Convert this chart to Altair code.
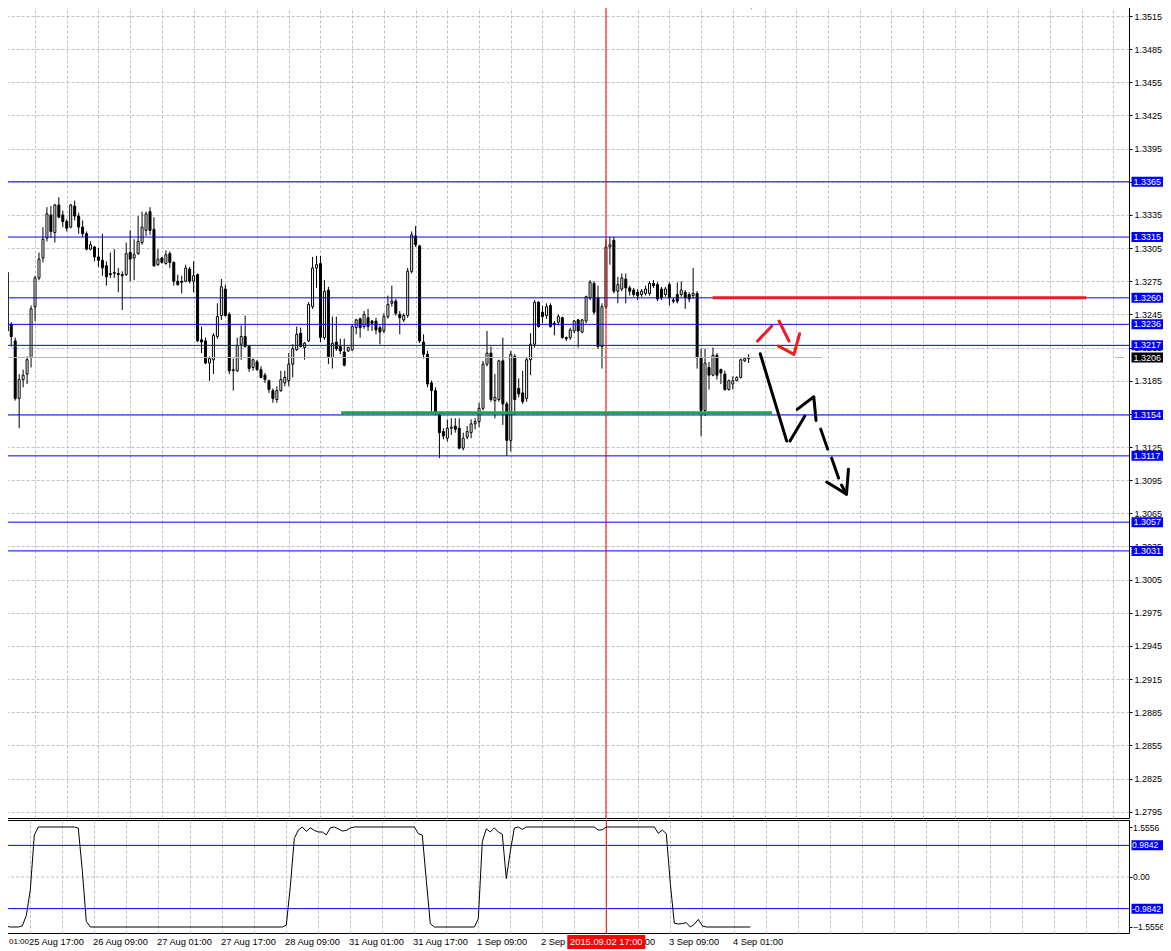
import altair as alt
import pandas as pd

# ---------------- candle data (H1 bars, index 0..187) ----------------
opens = [1.3283,1.3236,1.3221,1.3169,1.3186,1.3191,1.3206,1.3252,1.3278,1.3296,
         1.3314,1.3335,1.3319,1.3344,1.3335,1.3329,1.3324,1.3343,1.3334,1.3324,
         1.3318,1.3304,1.3306,1.3297,1.3294,1.3289,1.3282,1.3282,1.3282,1.3281,
         1.3281,1.3301,1.3296,1.3300,1.3310,1.3321,1.3338,1.3322,1.3290,1.3296,
         1.3291,1.3300,1.3292,1.3275,1.3275,1.3275,1.3286,1.3275,1.3281,1.3222,
         1.3221,1.3201,1.3204,1.3225,1.3244,1.3268,1.3245,1.3194,1.3194,1.3218,
         1.3225,1.3216,1.3197,1.3202,1.3195,1.3190,1.3185,1.3176,1.3168,1.3176,
         1.3183,1.3185,1.3200,1.3213,1.3228,1.3215,1.3221,1.3252,1.3287,1.3291,
         1.3224,1.3267,1.3206,1.3220,1.3216,1.3211,1.3212,1.3213,1.3233,1.3241,
         1.3234,1.3242,1.3239,1.3239,1.3233,1.3230,1.3243,1.3255,1.3257,1.3245,
         1.3240,1.3244,1.3284,1.3316,1.3307,1.3220,1.3209,1.3183,1.3176,1.3154,
         1.3139,1.3133,1.3142,1.3144,1.3142,1.3124,1.3134,1.3138,1.3146,1.3148,
         1.3160,1.3200,1.3210,1.3167,1.3168,1.3203,1.3164,1.3131,1.3207,1.3178,
         1.3174,1.3169,1.3204,1.3218,1.3256,1.3247,1.3244,1.3253,1.3237,1.3238,
         1.3242,1.3224,1.3224,1.3230,1.3240,1.3229,1.3239,1.3260,1.3273,1.3260,
         1.3216,1.3252,1.3306,1.3312,1.3266,1.3268,1.3277,1.3269,1.3267,1.3265,
         1.3263,1.3264,1.3264,1.3273,1.3272,1.3268,1.3263,1.3272,1.3258,1.3263,
         1.3263,1.3265,1.3263,1.3262,1.3264,1.3206,1.3158,1.3197,1.3190,1.3208,
         1.3195,1.3191,1.3177,1.3182,1.3185,1.3188,1.3203,1.3205]
highs = [1.3285,1.3238,1.3224,1.3191,1.3195,1.3207,1.3253,1.3280,1.3301,1.3324,
         1.3342,1.3343,1.3345,1.3351,1.3339,1.3331,1.3345,1.3348,1.3337,1.3330,
         1.3320,1.3311,1.3307,1.3305,1.3318,1.3293,1.3301,1.3304,1.3287,1.3284,
         1.3310,1.3321,1.3313,1.3334,1.3338,1.3338,1.3342,1.3333,1.3304,1.3297,
         1.3303,1.3302,1.3293,1.3281,1.3280,1.3290,1.3288,1.3293,1.3282,1.3234,
         1.3224,1.3207,1.3228,1.3255,1.3277,1.3272,1.3247,1.3205,1.3224,1.3235,
         1.3244,1.3217,1.3205,1.3204,1.3198,1.3192,1.3186,1.3178,1.3180,1.3194,
         1.3194,1.3210,1.3218,1.3234,1.3233,1.3220,1.3256,1.3297,1.3298,1.3298,
         1.3276,1.3270,1.3243,1.3243,1.3223,1.3223,1.3216,1.3236,1.3241,1.3242,
         1.3248,1.3250,1.3240,1.3242,1.3235,1.3246,1.3262,1.3271,1.3259,1.3248,
         1.3246,1.3287,1.3320,1.3325,1.3308,1.3227,1.3212,1.3185,1.3179,1.3157,
         1.3142,1.3150,1.3151,1.3151,1.3151,1.3138,1.3144,1.3150,1.3151,1.3165,
         1.3203,1.3230,1.3216,1.3191,1.3204,1.3224,1.3166,1.3212,1.3209,1.3187,
         1.3194,1.3206,1.3228,1.3258,1.3257,1.3253,1.3255,1.3255,1.3239,1.3245,
         1.3243,1.3225,1.3233,1.3240,1.3241,1.3241,1.3262,1.3276,1.3275,1.3271,
         1.3255,1.3313,1.3315,1.3315,1.3279,1.3282,1.3282,1.3271,1.3269,1.3268,
         1.3268,1.3271,1.3275,1.3276,1.3274,1.3270,1.3270,1.3274,1.3260,1.3274,
         1.3275,1.3267,1.3265,1.3287,1.3266,1.3214,1.3214,1.3202,1.3215,1.3210,
         1.3196,1.3194,1.3186,1.3189,1.3189,1.3205,1.3206,1.3209]
lows =  [1.3228,1.3216,1.3167,1.3142,1.3179,1.3182,1.3197,1.3239,1.3276,1.3292,
         1.3311,1.3314,1.3310,1.3332,1.3324,1.3320,1.3323,1.3330,1.3318,1.3315,
         1.3303,1.3303,1.3293,1.3288,1.3280,1.3271,1.3278,1.3278,1.3265,1.3249,
         1.3280,1.3275,1.3276,1.3299,1.3308,1.3316,1.3317,1.3288,1.3289,1.3291,
         1.3290,1.3287,1.3271,1.3271,1.3264,1.3274,1.3273,1.3265,1.3220,1.3210,
         1.3200,1.3185,1.3191,1.3223,1.3240,1.3243,1.3191,1.3176,1.3193,1.3204,
         1.3215,1.3193,1.3194,1.3194,1.3187,1.3183,1.3174,1.3165,1.3165,1.3175,
         1.3180,1.3180,1.3188,1.3212,1.3215,1.3204,1.3220,1.3250,1.3269,1.3220,
         1.3222,1.3200,1.3196,1.3212,1.3209,1.3198,1.3211,1.3212,1.3227,1.3224,
         1.3232,1.3230,1.3230,1.3227,1.3218,1.3228,1.3241,1.3252,1.3244,1.3227,
         1.3238,1.3242,1.3282,1.3306,1.3219,1.3205,1.3179,1.3157,1.3154,1.3115,
         1.3132,1.3130,1.3136,1.3138,1.3123,1.3122,1.3132,1.3133,1.3141,1.3143,
         1.3158,1.3198,1.3166,1.3151,1.3166,1.3145,1.3117,1.3121,1.3154,1.3170,
         1.3164,1.3166,1.3190,1.3215,1.3233,1.3237,1.3241,1.3233,1.3226,1.3235,
         1.3223,1.3221,1.3222,1.3228,1.3215,1.3228,1.3237,1.3258,1.3245,1.3214,
         1.3196,1.3250,1.3290,1.3264,1.3255,1.3266,1.3255,1.3262,1.3261,1.3258,
         1.3261,1.3262,1.3262,1.3269,1.3257,1.3258,1.3261,1.3253,1.3255,1.3255,
         1.3261,1.3250,1.3256,1.3259,1.3196,1.3135,1.3153,1.3177,1.3189,1.3186,
         1.3182,1.3176,1.3176,1.3177,1.3185,1.3187,1.3202,1.3201]
closes = [1.3230,1.3225,1.3169,1.3186,1.3190,1.3204,1.3250,1.3278,1.3295,1.3313,
          1.3336,1.3320,1.3344,1.3333,1.3329,1.3323,1.3344,1.3334,1.3324,1.3318,
          1.3304,1.3308,1.3297,1.3294,1.3287,1.3279,1.3281,1.3283,1.3281,1.3280,
          1.3300,1.3295,1.3299,1.3311,1.3324,1.3336,1.3321,1.3289,1.3295,1.3292,
          1.3299,1.3292,1.3275,1.3272,1.3274,1.3287,1.3275,1.3280,1.3221,1.3220,
          1.3201,1.3205,1.3226,1.3243,1.3270,1.3244,1.3194,1.3195,1.3217,1.3225,
          1.3216,1.3196,1.3204,1.3195,1.3188,1.3186,1.3177,1.3169,1.3176,1.3186,
          1.3188,1.3200,1.3214,1.3227,1.3216,1.3219,1.3254,1.3287,1.3290,1.3224,
          1.3266,1.3207,1.3219,1.3214,1.3212,1.3199,1.3215,1.3234,1.3240,1.3233,
          1.3245,1.3234,1.3237,1.3231,1.3229,1.3243,1.3254,1.3257,1.3246,1.3242,
          1.3244,1.3284,1.3317,1.3308,1.3221,1.3209,1.3182,1.3176,1.3156,1.3138,
          1.3135,1.3142,1.3143,1.3141,1.3124,1.3133,1.3139,1.3146,1.3148,1.3160,
          1.3200,1.3210,1.3168,1.3170,1.3203,1.3164,1.3131,1.3209,1.3168,1.3173,
          1.3166,1.3204,1.3218,1.3256,1.3234,1.3243,1.3252,1.3234,1.3236,1.3243,
          1.3224,1.3223,1.3231,1.3239,1.3230,1.3240,1.3261,1.3274,1.3247,1.3216,
          1.3252,1.3306,1.3308,1.3266,1.3272,1.3278,1.3269,1.3266,1.3263,1.3262,
          1.3266,1.3268,1.3273,1.3271,1.3259,1.3260,1.3268,1.3260,1.3257,1.3257,
          1.3267,1.3260,1.3259,1.3264,1.3206,1.3158,1.3201,1.3190,1.3208,1.3190,
          1.3192,1.3177,1.3185,1.3185,1.3188,1.3204,1.3205,1.3206]

# ---------------- levels & labels ----------------
level_prices = [1.3365, 1.3315, 1.3260, 1.3236, 1.3217, 1.3154, 1.3117, 1.3057, 1.3031]
level_labels = ["1.3365", "1.3315", "1.3260", "1.3236", "1.3217", "1.3154", "1.3117", "1.3057", "1.3031"]
bid_price = 1.3206
bid_label = "1.3206"
price_ticks = [1.2795, 1.2825, 1.2855, 1.2885, 1.2915, 1.2945, 1.2975, 1.3005, 1.3035,
               1.3065, 1.3095, 1.3125, 1.3155, 1.3185, 1.3215, 1.3245, 1.3275, 1.3305,
               1.3335, 1.3365, 1.3395, 1.3425, 1.3455, 1.3485, 1.3515]

# annotations (bar index, price)
red_line_bars = [177.9, 272.2]
red_line_price = 1.3260
green_line_bars = [84.2, 192.9]
green_line_price = 1.3156
marked_bar = 151
arrow_seg = ["r1", "r1", "r2", "r2", "r3", "r3", "r3",
             "k1", "k1", "k2", "k2", "k3", "k3", "k3", "k4", "k4", "k5", "k5",
             "k6", "k6", "k6", "k7", "k7"]
arrow_bar = [189.25, 192.85, 194.675, 197.175, 194.5, 198.425, 199.85,
             189.925, 196.6, 197.425, 201.175, 199.25, 203.425, 204.0, 205.175, 206.925,
             207.925, 209.675, 206.675, 211.675, 212.175, 210.425, 211.675]
arrow_price = [1.32209, 1.32345, 1.32390, 1.32209, 1.32164, 1.32088, 1.32275,
               1.32094, 1.31304, 1.31304, 1.31530, 1.31591, 1.31705, 1.31491, 1.31412, 1.31231,
               1.31150, 1.30969, 1.30933, 1.30824, 1.31050, 1.30906, 1.30824]

# ---------------- indicator ----------------
ind_bars = [0, 1, 2, 4, 5, 6, 7, 8, 9, 18, 19, 20, 21, 22, 70, 71, 72, 73, 74, 75,
            76, 77, 78, 79, 80, 81, 82, 83, 84, 85, 86, 87, 88, 103, 104, 105, 106, 107, 108,
            118, 119, 120, 121, 122, 123, 124, 125, 126, 127, 128, 129, 130, 131,
            148, 149, 150, 151, 163, 164, 165, 166, 167, 168, 169, 170, 171, 172, 173,
            174, 175, 176, 187]
ind_vals = [-0.5, -1.53, -1.556, -1.556, -1.52, -1.2, -0.4, 1.3, 1.556, 1.556, 1.52, 0.2, -1.38, -1.556,
            -1.556, -1.5, -0.3, 1.2, 1.46, 1.556,
            1.42, 1.53, 1.45, 1.40, 1.40, 1.31, 1.53, 1.556, 1.50, 1.43, 1.45, 1.52, 1.556,
            1.556, 1.35, 1.30, -0.1, -1.45, -1.556,
            -1.556, -1.3, 1.1, 1.5, 1.40, 1.53, 1.40, 1.33, -0.05, 0.8, 1.52, 1.556, 1.48, 1.556,
            1.556, 1.46, 1.47, 1.556, 1.556, 1.36, 1.46, 1.35, -0.2, -1.44, -1.46, -1.45, -1.42,
            -1.556, -1.47, -1.32, -1.52, -1.556, -1.556]
ind_levels = [0.9842, -0.9842]
ind_level_labels = ["0.9842", "-0.9842"]
ind_ticks = [1.5556, 0, -1.5556]

time_label_bars = [7, 23, 39, 55, 71, 87, 103, 119, 135, 151, 167, 183]
time_label_text = ["25 Aug 17:00", "26 Aug 09:00", "27 Aug 01:00", "27 Aug 17:00",
                   "28 Aug 09:00", "31 Aug 01:00", "31 Aug 17:00", "1 Sep 09:00",
                   "2 Sep 01:00", "2 Sep 17:00", "3 Sep 09:00", "4 Sep 01:00"]
edge_label_bar = 2.0
edge_label_text = "01:00"
cursor_label = "2015.09.02 17:00"
grid_bars = list(range(7, 280, 8))

# ---------------- frames ----------------
n = len(opens)
candles = pd.DataFrame({
    "bar": list(range(n)), "open": opens, "high": highs, "low": lows, "close": closes,
})
candles["dir"] = ["up" if c >= o else "down" for o, c in zip(opens, closes)]

FONT = "Liberation Sans"
FS = 9.3
FSA = 9.0
FSI = 8.6
W, H1, H2 = 1129, 818, 113

xscale = alt.Scale(domain=[-0.575, 281.675], nice=False, zero=False)
yscale = alt.Scale(domain=[1.278934, 1.352948], nice=False, zero=False)
iscale = alt.Scale(domain=[-1.7424, 1.7735], nice=False, zero=False)

xaxis = alt.Axis(values=grid_bars, grid=True, gridColor="#c0c0c0", gridDash=[3, 2],
                 labels=False, ticks=False, domain=False, title=None)
yaxis = alt.Axis(orient="right", values=price_ticks, format=".4f", grid=True,
                 gridColor="#c0c0c0", gridDash=[3, 2], ticks=True, tickSize=3,
                 tickColor="#000000", labelPadding=2, domain=False, title=None,
                 labelOverlap=False, labelFlush=False, labelBound=False, labelFontSize=FSA)
iaxis = alt.Axis(orient="right", values=ind_ticks, grid=False, ticks=True, tickSize=3,
                 tickColor="#000000", labelPadding=0.5, domain=False, title=None,
                 labelOverlap=False, labelFlush=False, labelFontSize=FSI,
                 labelExpr="datum.value == 0 ? '0.00' : format(datum.value, '.4f')")


def X(f="bar"):
    return alt.X(f, type="quantitative", scale=xscale, axis=xaxis)


def Y(f="price"):
    return alt.Y(f, type="quantitative", scale=yscale, axis=yaxis)


def IY(f="v"):
    return alt.Y(f, type="quantitative", scale=iscale, axis=iaxis)


BOX36 = "M-1,-0.2778L1,-0.2778L1,0.2778L-1,0.2778Z"
BOX78 = "M-1,-0.1795L1,-0.1795L1,0.1795L-1,0.1795Z"

# ---------------- main panel ----------------
wicks = alt.Chart(candles).mark_rule(color="black", strokeWidth=1).encode(
    x=X(), y=Y("low"), y2="high")
bodies = alt.Chart(candles).mark_bar(size=2, stroke="black", strokeWidth=1).encode(
    x=X(), y=Y("open"), y2="close",
    fill=alt.Color("dir:N", scale=alt.Scale(domain=["up", "down"], range=["white", "black"]),
                   legend=None))
levels_df = pd.DataFrame({"price": level_prices, "label": level_labels})
levels = alt.Chart(levels_df).mark_rule(color="#0000ff", strokeWidth=1).encode(y=Y())

bid_df = pd.DataFrame({"bar": [-0.575, 279.5], "bar2": [205.5, 281.675],
                       "price": [bid_price, bid_price]})
bid = alt.Chart(bid_df).mark_rule(color="#b4b4b4", strokeWidth=1).encode(
    x=X(), x2="bar2", y=Y())

vline_df = pd.DataFrame({"bar": [marked_bar]})
vline = alt.Chart(vline_df).mark_rule(color="#ff0000", strokeWidth=1).encode(x=X())

ann_df = pd.DataFrame({
    "bar": [red_line_bars[0], green_line_bars[0]],
    "bar2": [red_line_bars[1], green_line_bars[1]],
    "price": [red_line_price, green_line_price],
    "col": ["#ed1c24", "#22a24a"],
})
ann = alt.Chart(ann_df).mark_rule(strokeWidth=3).encode(
    x=X(), x2="bar2", y=Y(), color=alt.Color("col:N", scale=None))

arr_df = pd.DataFrame({
    "seg": arrow_seg, "bar": arrow_bar, "price": arrow_price,
    "ord": list(range(len(arrow_seg))),
    "col": ["#ed1c24" if s.startswith("r") else "#000000" for s in arrow_seg],
})
arrows = alt.Chart(arr_df).mark_line(strokeWidth=3, strokeCap="round", strokeJoin="round").encode(
    x=X(), y=Y(), detail="seg:N", order="ord:Q", color=alt.Color("col:N", scale=None))

shift_df = pd.DataFrame({"bar": [187.7], "price": [1.3523]})
shift = alt.Chart(shift_df).mark_point(shape="triangle-down", filled=True, size=40,
                                       color="#b4b4b4", opacity=1).encode(x=X(), y=Y())

box_df = pd.DataFrame({
    "price": level_prices + [bid_price],
    "label": level_labels + [bid_label],
    "col": ["#0000ff"] * len(level_prices) + ["#000000"],
})
boxes = alt.Chart(box_df).mark_point(shape=BOX36, size=1296, filled=True, opacity=1,
                                     strokeWidth=0).encode(
    x=alt.value(1149.5), y=Y(), color=alt.Color("col:N", scale=None))
box_text = alt.Chart(box_df).mark_text(align="left", baseline="middle", color="white",
                                       font=FONT, fontSize=FSA).encode(
    x=alt.value(1133.5), y=Y(), text="label:N")

top = alt.layer(wicks, bodies, levels, bid, vline, ann, arrows, shift, boxes, box_text).properties(
    width=W, height=H1)

# ---------------- indicator panel ----------------
ind_df = pd.DataFrame({"bar": ind_bars, "v": ind_vals})
zero_df = pd.DataFrame({"v": [0.0]})
zero = alt.Chart(zero_df).mark_rule(color="#c0c0c0", strokeDash=[3, 2]).encode(y=IY())
ilev_df = pd.DataFrame({"v": ind_levels, "label": ind_level_labels})
ilev = alt.Chart(ilev_df).mark_rule(color="#0000ff", strokeWidth=1).encode(y=IY())
ivline = alt.Chart(vline_df).mark_rule(color="#ff0000", strokeWidth=1).encode(x=X())
iline = alt.Chart(ind_df).mark_line(color="black", strokeWidth=1).encode(x=X(), y=IY())
iboxes = alt.Chart(ilev_df).mark_point(shape=BOX36, size=1296, filled=True, opacity=1,
                                       strokeWidth=0, color="#0000ff").encode(
    x=alt.value(1149.5), y=IY())
ibox_text = alt.Chart(ilev_df).mark_text(align="left", baseline="middle", color="white",
                                         font=FONT, fontSize=FSI).encode(
    x=alt.value(1132), y=IY(), text="label:N")

tl_df = pd.DataFrame({"bar": time_label_bars, "label": time_label_text})
tlabels = alt.Chart(tl_df).mark_text(align="left", baseline="middle", dx=-1.3, color="black",
                                     font=FONT, fontSize=FS).encode(
    x=X(), y=alt.value(122), text="label:N")
edge_df = pd.DataFrame({"bar": [edge_label_bar], "label": [edge_label_text]})
edge_lab = alt.Chart(edge_df).mark_text(align="left", baseline="middle", dx=-1.3, color="black",
                                        font=FONT, fontSize=8.0).encode(
    x=X(), y=alt.value(122), text="label:N")
cur_df = pd.DataFrame({"bar": [marked_bar], "label": [cursor_label]})
cur_box = alt.Chart(cur_df).mark_point(shape=BOX78, size=6084, filled=True, opacity=1,
                                       strokeWidth=0, color="#ff0000").encode(
    x=X(), y=alt.value(122))
cur_text = alt.Chart(cur_df).mark_text(align="center", baseline="middle", color="white",
                                       font=FONT, fontSize=FS).encode(
    x=X(), y=alt.value(122), text="label:N")

bottom = alt.layer(zero, ilev, ivline, iline, iboxes, ibox_text, tlabels, edge_lab,
                   cur_box, cur_text).properties(width=W, height=H2)

chart = alt.vconcat(top, bottom, spacing=2, bounds="flush").properties(
    padding={"left": -9, "top": -9, "right": -5, "bottom": 0},
    background="white",
).configure_view(stroke="black", strokeWidth=1).configure_axis(
    labelFont=FONT, labelFontSize=FS, labelColor="black")

chart.save("out.html", embed_options={"renderer": "svg", "actions": False})
